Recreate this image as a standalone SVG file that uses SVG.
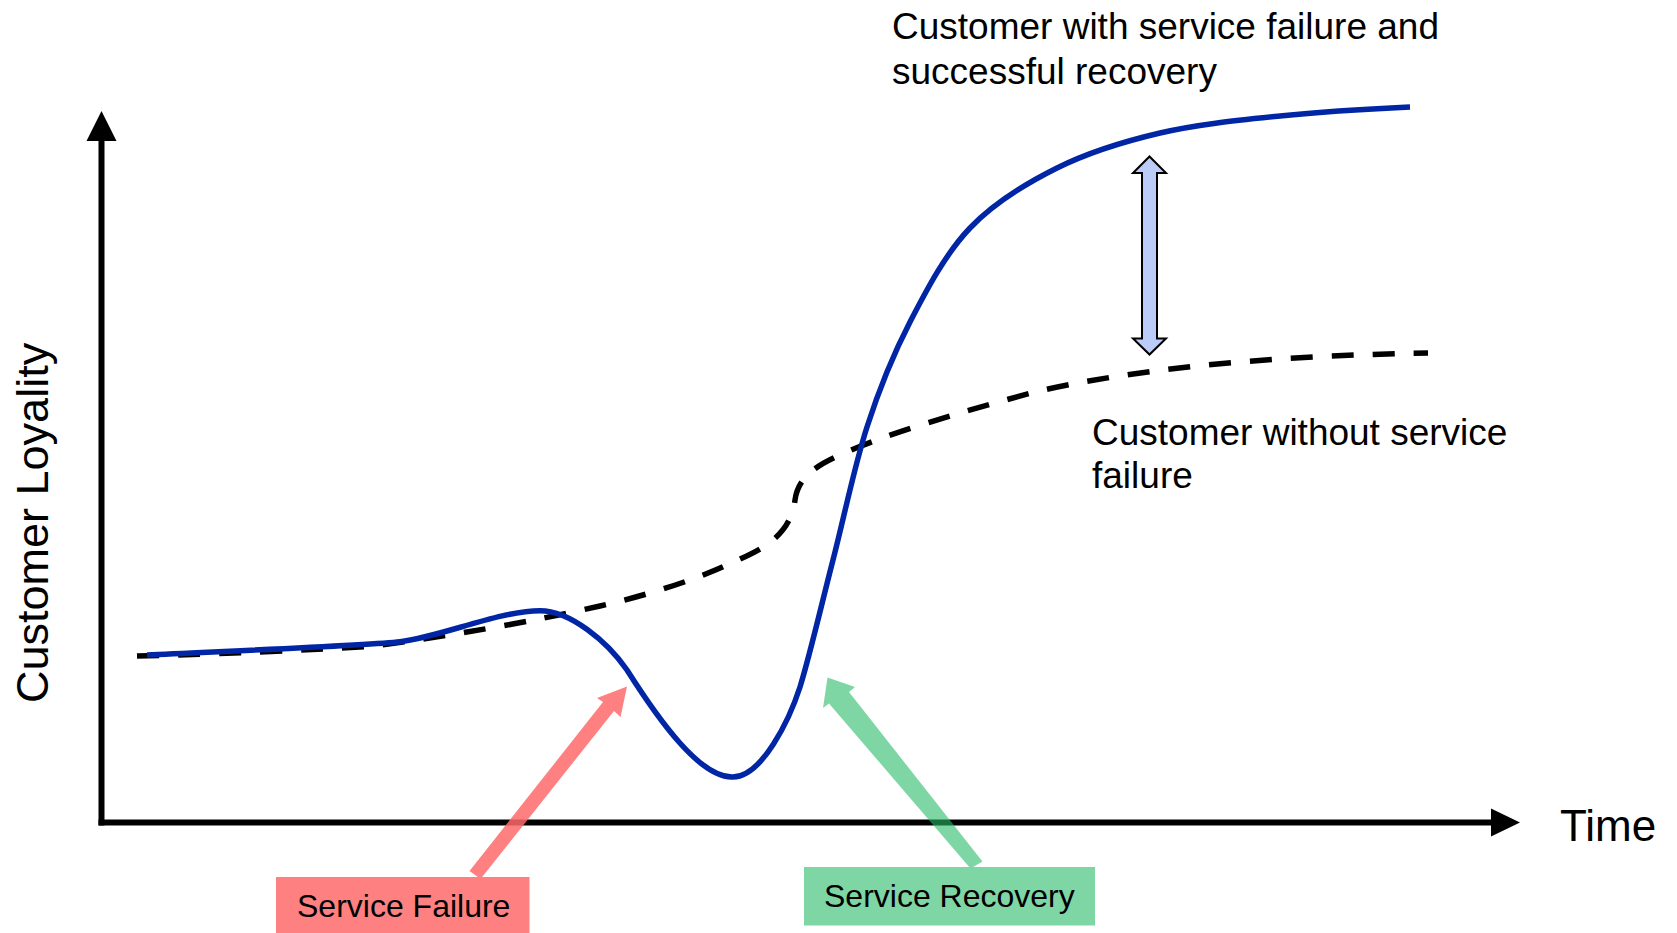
<svg xmlns="http://www.w3.org/2000/svg" width="1677" height="933" viewBox="0 0 1677 933">
<style>
text{font-family:"Liberation Sans",Arial,sans-serif;fill:#000}
.lbl{font-size:37px}
.box{font-size:32px}
.axis{stroke:#000;stroke-width:6;fill:none}
.blue{stroke:#0026A6;stroke-width:5.5;fill:none;stroke-linecap:butt}
.dash{stroke:#000;stroke-width:5.5;fill:none;stroke-dasharray:22 19}
</style>
<rect width="1677" height="933" fill="#fff"/>
<g id="axes">
<line class="axis" x1="101.5" y1="138" x2="101.5" y2="825.5"/>
<polygon points="101.5,111 86.5,141 116.5,141" fill="#000"/>
<line class="axis" x1="98.5" y1="822.5" x2="1493" y2="822.5"/>
<polygon points="1520,822.5 1491,808.5 1491,836.5" fill="#000"/>
<text x="1560" y="840.7" style="font-size:44px">Time</text>
<text x="48" y="703" style="font-size:45px" transform="rotate(-90 48 703)">Customer Loyality</text>
</g>
<g id="curves">
<path id="without-failure" class="dash" d="M137,656 C220,654 300,650.5 370,646.5 C450,636 530,622 600,606 C640,597 690,582 727,565 C755,552 790,540 795,500 C798,478 815,466 840,455 C880,436 960,412 1035,392 C1120,372 1250,356 1428,353"/>
<path id="with-recovery" class="blue" d="M147,655 C230,651 370,645.3 400,641.7 C440,637 500,610.7 540,610.7 C570,610.7 607,641 627,670 C660,722 700,777 732,777 C762,778 790,718 800,687 C810,654.8 821.8,603.3 833,560 C844.2,516.7 854.2,466.7 867,427 C879.8,387.3 892.8,355.2 910,322 C927.2,288.8 945.5,253.7 970,228 C994.5,202.3 1025.3,183.8 1057,168 C1088.7,152.2 1122.8,141.7 1160,133 C1197.2,124.3 1238.3,120.3 1280,116 C1321.7,111.7 1367,109 1410,107"/>
</g>
<g id="gap-arrow">
<polygon points="1149.5,156.5 1166,173 1157,173 1157,338.5 1166,338.5 1149.5,354.5 1133,338.5 1142,338.5 1142,173 1133,173" fill="#BBCCF9" stroke="#000" stroke-width="2" stroke-linejoin="miter"/>
</g>
<g id="curve-labels">
<text class="lbl" x="892" y="38.5">Customer with service failure and</text>
<text class="lbl" x="892" y="83.5">successful recovery</text>
<text class="lbl" x="1092" y="445">Customer without service</text>
<text class="lbl" x="1092" y="488">failure</text>
</g>
<g id="connectors">
<polygon id="failure-arrow" points="469.5,871 603,702 597,698 627,686.5 620.5,717 614,711 480.5,879" fill="#FF6A6A" fill-opacity="0.85"/>
<polygon id="recovery-arrow" points="982.5,861.5 849,692 855,687 827.5,677.5 823,708 829,703.5 970.5,868.5" fill="#2ABB69" fill-opacity="0.6"/>
</g>
<g id="service-failure">
<rect x="276" y="877" width="253.5" height="56" fill="#FF8080"/>
<text class="box" x="297" y="916.7">Service Failure</text>
</g>
<g id="service-recovery">
<rect x="804" y="867" width="291" height="58.5" fill="#7FD6A5"/>
<text class="box" x="824" y="907.3">Service Recovery</text>
</g>
</svg>
